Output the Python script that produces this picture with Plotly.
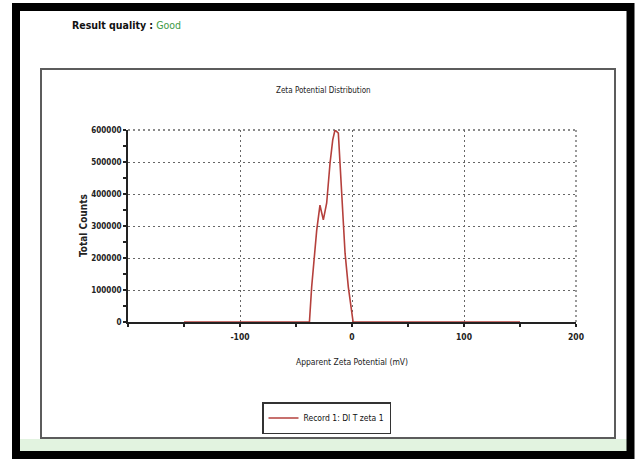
import plotly.graph_objects as go

# Data
zeta_mv = [-150, -40, -38, -36, -33, -31.5, -28.6, -25.6, -22.6, -19.6, -17.2,
           -15.2, -12.2, -10.7, -9.2, -6.2, -3.3, -0.9, 1, 150]
total_counts = [0, 0, 0, 110000, 215000, 287000, 365000, 319000, 372000, 497000, 569000,
                600000, 590000, 497000, 423000, 215000, 110000, 48000, 0, 0]
series_name = "Record 1: DI T zeta 1"
x_ticks = [-100, 0, 100, 200]
y_ticks = [0, 100000, 200000, 300000, 400000, 500000, 600000]

W, H = 640, 459
L, R, T, B = 128, 576, 130, 322  # plot area in pixels


def px(x):
    return (x - L) / (R - L)


def py(y):
    return (B - y) / (B - T)


FONT = "DejaVu Sans Condensed, Liberation Sans Narrow, Arial Narrow, sans-serif"
GRIDCOLOR, GRIDDASH, GRIDWIDTH = "#666", "2px,3px", 1.3
GRID = dict(showgrid=True, gridcolor=GRIDCOLOR, griddash=GRIDDASH, gridwidth=GRIDWIDTH)

fig = go.Figure()
fig.add_trace(go.Scatter(
    x=zeta_mv, y=total_counts, mode="lines", name=series_name,
    line=dict(color="#b5403c", width=1.6), showlegend=True, cliponaxis=False,
))

fig.update_layout(
    width=W, height=H,
    margin=dict(l=L, r=W - R, t=T, b=H - B, pad=0),
    paper_bgcolor="white", plot_bgcolor="white",
    font=dict(family=FONT, color="#222", size=9),
    showlegend=True,
    legend=dict(
        x=px(262), y=py(402), xanchor="left", yanchor="top",
        bordercolor="#333", borderwidth=1.5, bgcolor="white",
        font=dict(family=FONT, size=8.5, color="#111"),
        itemwidth=30, tracegroupgap=0,
    ),
    xaxis=dict(
        range=[-200, 200], tickvals=x_ticks, ticktext=[str(v) for v in x_ticks],
        **GRID,
        zeroline=False, showline=True, linecolor="#222", linewidth=2,
        ticks="outside", ticklen=3, tickwidth=2, tickcolor="#222",
        minor=dict(dtick=50, tick0=0, ticks="outside", ticklen=3, tickwidth=2,
                   tickcolor="#222", showgrid=False),
        tickfont=dict(family=FONT, size=8.5, color="#222", weight="bold"),
        ticklabelstandoff=3,
        title=dict(text="Apparent Zeta Potential (mV)", standoff=18,
                   font=dict(family=FONT, size=8.5, color="#222")),
        layer="below traces",
        fixedrange=True,
    ),
    yaxis=dict(
        range=[0, 600000], tickvals=y_ticks, tickformat="d",
        **GRID,
        zeroline=False, showline=True, linecolor="#222", linewidth=2,
        ticks="outside", ticklen=3, tickwidth=2, tickcolor="#222",
        minor=dict(dtick=50000, tick0=0, ticks="outside", ticklen=3, tickwidth=2,
                   tickcolor="#222", showgrid=False),
        tickfont=dict(family=FONT, size=8, color="#222", weight="bold"),
        layer="below traces",
        fixedrange=True,
    ),
)

edge_grid = dict(color=GRIDCOLOR, width=GRIDWIDTH, dash=GRIDDASH)
shapes = [
    # light green strip at the bottom
    dict(type="rect", xref="paper", yref="paper", x0=px(20), x1=px(627), y0=py(452), y1=py(439),
         fillcolor="#e2f3e0", line=dict(width=0), layer="below"),
    # inner chart frame
    dict(type="rect", xref="paper", yref="paper", x0=px(41), x1=px(615), y0=py(438), y1=py(69),
         line=dict(color="#5c5c5c", width=2), layer="below"),
    # grid lines on the top and right edges of the plot area
    dict(type="line", xref="paper", yref="paper", x0=0, x1=1, y0=1, y1=1,
         line=edge_grid, layer="below"),
    dict(type="line", xref="paper", yref="paper", x0=1, x1=1, y0=0, y1=1,
         line=edge_grid, layer="below"),
    # outer black border
    dict(type="rect", xref="paper", yref="paper", x0=px(16), x1=px(630.5), y0=py(455), y1=py(7),
         line=dict(color="black", width=8), layer="above"),
]
fig.update_layout(shapes=shapes)

annotations = [
    dict(text="<b>Result quality :</b> <span style='color:#3c9a46'>Good</span>",
         xref="paper", yref="paper", x=px(70), y=py(25),
         xanchor="left", yanchor="middle", showarrow=False,
         font=dict(family=FONT, size=10.5, color="#111")),
    dict(text="Zeta Potential Distribution", xref="paper", yref="paper", x=px(323), y=py(90),
         xanchor="center", yanchor="middle", showarrow=False,
         font=dict(family=FONT, size=8, color="#222")),
    dict(text="<b>Total Counts</b>", xref="paper", yref="paper", x=px(83), y=py(226),
         xanchor="center", yanchor="middle", showarrow=False, textangle=-90,
         font=dict(family=FONT, size=10, color="#222")),
]
fig.update_layout(annotations=annotations)

fig.write_html(
    "out.html",
    config={"displayModeBar": False},
    post_script="document.body.style.margin='0';document.body.style.overflow='hidden';",
)
